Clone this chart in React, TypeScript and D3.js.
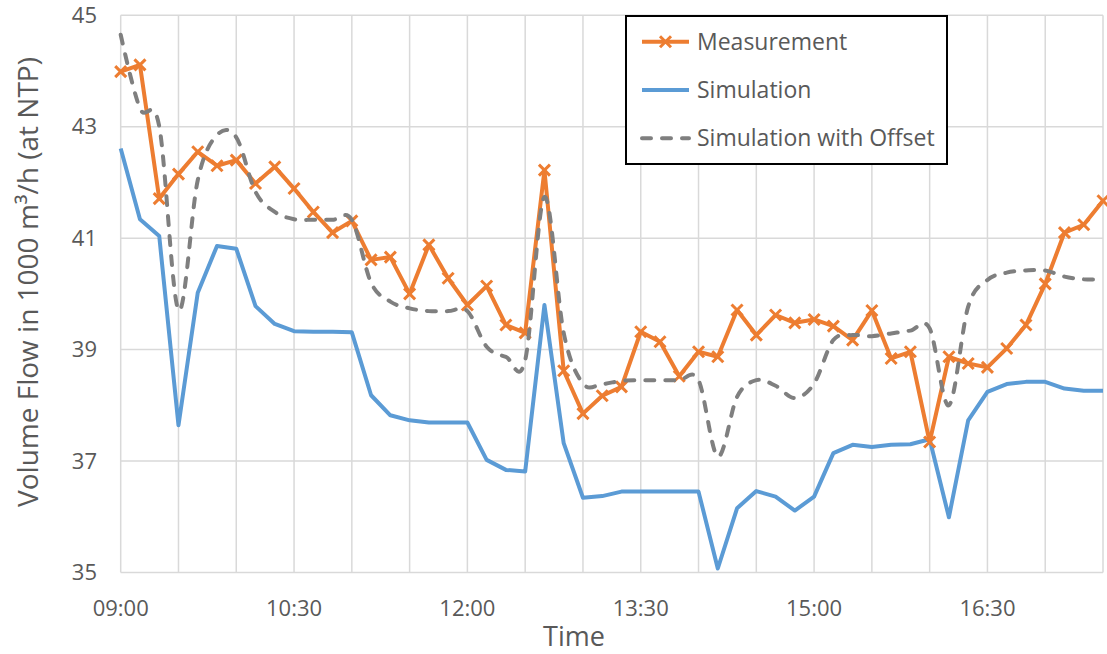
import * as React from "react";
import * as d3 from "d3";

// readings every 10 minutes, 09:00 .. 17:30
const startTime = "09:00";
const stepMinutes = 10;

const measurement = [
  43.99, 44.11, 41.71, 42.15, 42.55, 42.3, 42.4, 41.98, 42.28, 41.89,
  41.47, 41.1, 41.31, 40.61, 40.66, 40.0, 40.88, 40.28, 39.8, 40.14,
  39.44, 39.3, 42.22, 38.62, 37.85, 38.17, 38.33, 39.32, 39.14, 38.52,
  38.96, 38.87, 39.71, 39.26, 39.62, 39.48, 39.54, 39.42, 39.17, 39.7,
  38.84, 38.96, 37.34, 38.87, 38.75, 38.68, 39.02, 39.44, 40.18, 41.1,
  41.24, 41.67,
];

const simulation = [
  42.61, 41.34, 41.04, 37.64, 40.02, 40.86, 40.81, 39.78, 39.46, 39.33,
  39.32, 39.32, 39.31, 38.18, 37.82, 37.73, 37.69, 37.69, 37.69, 37.02,
  36.84, 36.81, 39.8, 37.32, 36.34, 36.37, 36.45, 36.45, 36.45, 36.45,
  36.45, 35.07, 36.15, 36.46, 36.36, 36.11, 36.36, 37.14, 37.29, 37.25,
  37.29, 37.3, 37.39, 35.99, 37.73, 38.24, 38.38, 38.42, 38.42, 38.3,
  38.26, 38.26,
];

const simulationOffset = [
  44.65, 43.33, 43.01, 39.71, 42.04, 42.85, 42.81, 41.83, 41.47, 41.34,
  41.33, 41.33, 41.33, 40.2, 39.86, 39.74, 39.69, 39.69, 39.69, 39.05,
  38.87, 38.81, 41.74, 39.3, 38.39, 38.38, 38.44, 38.45, 38.45, 38.45,
  38.45, 37.08, 38.15, 38.45, 38.35, 38.13, 38.39, 39.17, 39.26, 39.24,
  39.29, 39.34, 39.38, 38.0, 39.77, 40.25, 40.38, 40.42, 40.42, 40.31,
  40.26, 40.26,
];

const xTickLabels = ["09:00", "10:30", "12:00", "13:30", "15:00", "16:30"];
const yTicks = [35, 37, 39, 41, 43, 45];
const seriesNames = ["Measurement", "Simulation", "Simulation with Offset"];

const toMin = (s: string) => {
  const [h, m] = s.split(":").map(Number);
  return h * 60 + m;
};

const W = 1107;
const H = 654;
const plot = { left: 120.7, right: 1103, top: 15.3, bottom: 572.4 };
const FONT = "'Open Sans', sans-serif";
const TEXT = "#595959";
const ORANGE = "#ED7D31";
const BLUE = "#5B9BD5";
const GRAY = "#7F7F7F";
const DASH = "9 11";

export default function App() {
  const t0 = toMin(startTime);
  const minutes = measurement.map((_, i) => t0 + i * stepMinutes);
  const x = d3
    .scaleLinear()
    .domain([t0, minutes[minutes.length - 1]])
    .range([plot.left, plot.right]);
  const y = d3.scaleLinear().domain([35, 45]).range([plot.bottom, plot.top]);

  const straight = d3
    .line<number>()
    .x((_, i) => x(minutes[i]))
    .y((d) => y(d));
  const smooth = d3
    .line<number>()
    .x((_, i) => x(minutes[i]))
    .y((d) => y(d))
    .curve(d3.curveCatmullRom.alpha(0));

  const vGrid = d3.range(t0, minutes[minutes.length - 1] + 1, 30);
  const cross = "M-5.5,-5.5L5.5,5.5M-5.5,5.5L5.5,-5.5";

  const legX = 626;
  const legY = 16;
  const rows = [41.7, 90, 138.3];

  return (
    <svg
      width={W}
      height={H}
      style={{ position: "absolute", left: 0, top: 0, background: "#fff" }}
      fontFamily={FONT}
    >
      <rect width={W} height={H} fill="#fff" />
      {/* grid */}
      {yTicks.map((t) => (
        <line
          key={"h" + t}
          x1={plot.left}
          x2={plot.right}
          y1={y(t)}
          y2={y(t)}
          stroke="#D9D9D9"
          strokeWidth={1.5}
        />
      ))}
      {vGrid.map((m) => (
        <line
          key={"v" + m}
          x1={x(m)}
          x2={x(m)}
          y1={plot.top}
          y2={plot.bottom}
          stroke="#D9D9D9"
          strokeWidth={1.5}
        />
      ))}
      {/* axis labels */}
      {yTicks.map((t) => (
        <text
          key={"yl" + t}
          x={97}
          y={y(t)}
          dy="0.35em"
          textAnchor="end"
          fontSize={22}
          fill={TEXT}
        >
          {t}
        </text>
      ))}
      {xTickLabels.map((l) => (
        <text
          key={"xl" + l}
          x={x(toMin(l))}
          y={616}
          textAnchor="middle"
          fontSize={22}
          fill={TEXT}
        >
          {l}
        </text>
      ))}
      <text
        transform={`translate(38,${282}) rotate(-90)`}
        textAnchor="middle"
        fontSize={28}
        fill={TEXT}
      >
        Volume Flow in 1000 m³/h (at NTP)
      </text>
      <text x={574} y={646} textAnchor="middle" fontSize={27} fill={TEXT}>
        Time
      </text>
      {/* series */}
      <path d={straight(simulation) ?? ""} fill="none" stroke={BLUE} strokeWidth={4} strokeLinejoin="round" />
      <path d={straight(measurement) ?? ""} fill="none" stroke={ORANGE} strokeWidth={4} strokeLinejoin="round" />
      {measurement.map((v, i) => (
        <path
          key={"m" + i}
          d={cross}
          transform={`translate(${x(minutes[i])},${y(v)})`}
          stroke={ORANGE}
          strokeWidth={3}
          fill="none"
        />
      ))}
      <path
        d={smooth(simulationOffset) ?? ""}
        fill="none"
        stroke={GRAY}
        strokeWidth={4}
        strokeDasharray={DASH}
        strokeLinecap="round"
      />
      {/* legend */}
      <rect x={legX} y={legY} width={321} height={148} fill="#fff" stroke="#000" strokeWidth={2} />
      {seriesNames.map((name, i) => (
        <g key={name}>
          <line
            x1={642}
            x2={689}
            y1={rows[i]}
            y2={rows[i]}
            stroke={[ORANGE, BLUE, GRAY][i]}
            strokeWidth={4}
            strokeDasharray={i === 2 ? DASH : undefined}
            strokeLinecap={i === 2 ? "round" : "butt"}
          />
          {i === 0 && (
            <path d={cross} transform={`translate(665.5,${rows[i]})`} stroke={ORANGE} strokeWidth={3} />
          )}
          <text x={697} y={rows[i]} dy="0.35em" fontSize={23} fill={TEXT}>
            {name}
          </text>
        </g>
      ))}
    </svg>
  );
}
